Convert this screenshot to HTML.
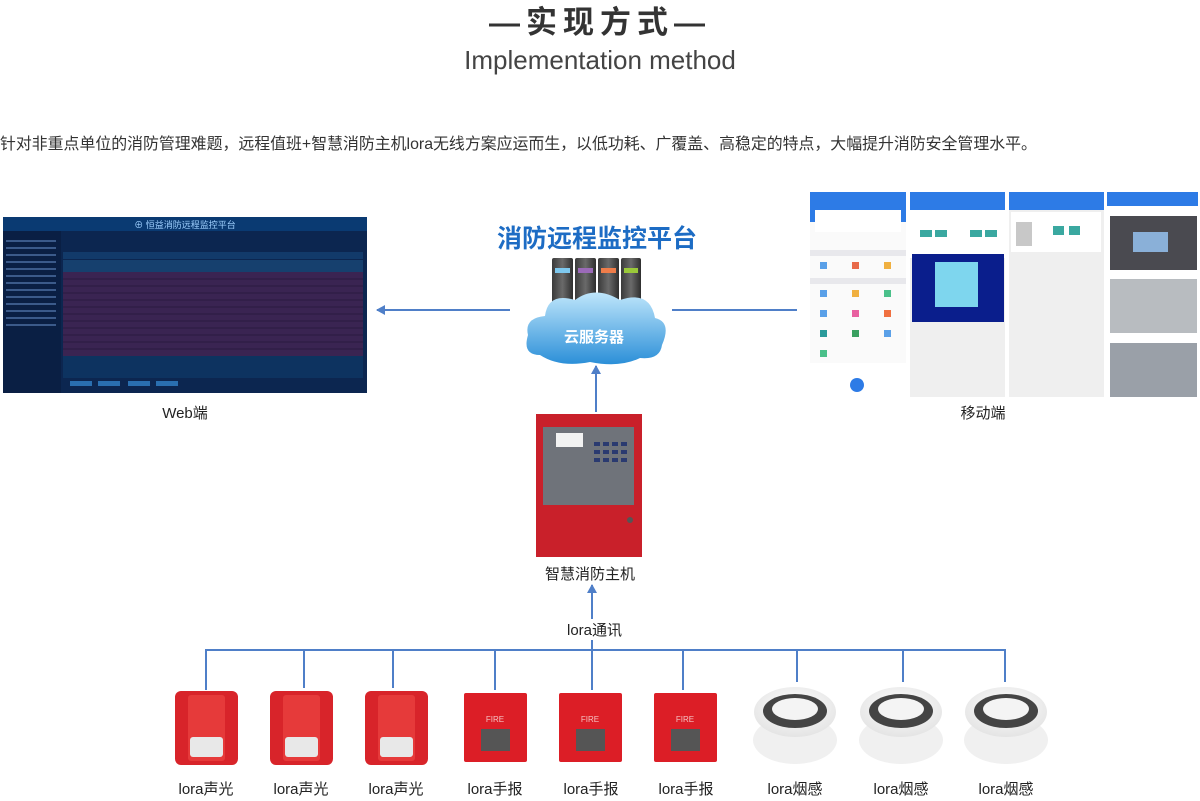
<!DOCTYPE html>
<html><head><meta charset="utf-8"><style>
*{margin:0;padding:0;box-sizing:border-box}
body{width:1200px;height:801px;background:#fff;position:relative;overflow:hidden;font-family:"Liberation Sans","Noto Sans CJK SC",sans-serif;color:#333}
.a{position:absolute}
.lbl{position:absolute;font-size:15px;color:#222;text-align:center;width:100px}
</style></head><body>
<div class="a" style="left:0;top:-3px;width:1200px;text-align:center;font-size:31px;font-weight:bold;color:#333;letter-spacing:6px">—实现方式—</div>
<div class="a" style="left:0;top:45px;width:1200px;text-align:center;font-size:26px;color:#444">Implementation method</div>
<div class="a" style="left:0;top:131px;font-size:15.9px;color:#333;white-space:nowrap">针对非重点单位的消防管理难题，远程值班+智慧消防主机lora无线方案应运而生，以低功耗、广覆盖、高稳定的特点，大幅提升消防安全管理水平。</div>

<svg class="a" style="left:0;top:0" width="1200" height="801">
<defs>
<marker id="ar" markerWidth="10" markerHeight="10" refX="8" refY="5" orient="auto" markerUnits="userSpaceOnUse"><path d="M0,0 L9,5 L0,10 Z" fill="#4f7fc8"/></marker>
<linearGradient id="cl" x1="0" y1="0" x2="0" y2="1"><stop offset="0" stop-color="#bfe6fb"/><stop offset="1" stop-color="#2b8fd8"/></linearGradient>
<linearGradient id="sv" x1="0" y1="0" x2="1" y2="0"><stop offset="0" stop-color="#3a3a3a"/><stop offset=".5" stop-color="#6a6a6a"/><stop offset="1" stop-color="#2e2e2e"/></linearGradient>
<radialGradient id="sm" cx=".5" cy=".4" r=".6"><stop offset="0" stop-color="#fff"/><stop offset="1" stop-color="#e4e4e4"/></radialGradient>
</defs>
<rect x="3" y="217" width="364" height="176" fill="#0c2650"/>
<rect x="3" y="217" width="364" height="14" fill="#0a3a72"/>
<text x="185" y="228" font-size="9" fill="#9fd0ff" text-anchor="middle">⊕ 恒益消防远程监控平台</text>
<rect x="3" y="231" width="58" height="162" fill="#0a1f44"/>
<g fill="#3b5a8a">
<rect x="6" y="240" width="50" height="2"/><rect x="6" y="247" width="50" height="2"/><rect x="6" y="254" width="50" height="2"/><rect x="6" y="261" width="50" height="2"/><rect x="6" y="268" width="50" height="2"/><rect x="6" y="275" width="50" height="2"/><rect x="6" y="282" width="50" height="2"/><rect x="6" y="289" width="50" height="2"/><rect x="6" y="296" width="50" height="2"/><rect x="6" y="303" width="50" height="2"/><rect x="6" y="310" width="50" height="2"/><rect x="6" y="317" width="50" height="2"/><rect x="6" y="324" width="50" height="2"/>
</g>
<rect x="63" y="252" width="300" height="7" fill="#123a6a"/>
<rect x="63" y="260" width="300" height="12" fill="#16406e"/>
<rect x="63" y="272" width="300" height="84" fill="#3a2452"/>
<g stroke="#2a1a40" stroke-width="1">
<line x1="63" y1="279" x2="363" y2="279"/><line x1="63" y1="286" x2="363" y2="286"/><line x1="63" y1="293" x2="363" y2="293"/><line x1="63" y1="300" x2="363" y2="300"/><line x1="63" y1="307" x2="363" y2="307"/><line x1="63" y1="314" x2="363" y2="314"/><line x1="63" y1="321" x2="363" y2="321"/><line x1="63" y1="328" x2="363" y2="328"/><line x1="63" y1="335" x2="363" y2="335"/><line x1="63" y1="342" x2="363" y2="342"/><line x1="63" y1="349" x2="363" y2="349"/>
</g>
<rect x="63" y="356" width="300" height="22" fill="#0d3360"/>
<rect x="70" y="381" width="22" height="5" fill="#2a6fb0"/><rect x="98" y="381" width="22" height="5" fill="#2a6fb0"/><rect x="128" y="381" width="22" height="5" fill="#2a6fb0"/><rect x="156" y="381" width="22" height="5" fill="#2a6fb0"/>
<line x1="510" y1="310" x2="377" y2="310" stroke="#4f7fc8" stroke-width="2" marker-end="url(#ar)"/>
<line x1="672" y1="310" x2="797" y2="310" stroke="#4f7fc8" stroke-width="2"/>
<g>
<rect x="552" y="258" width="21" height="62" rx="2" fill="url(#sv)"/><rect x="575" y="258" width="21" height="62" rx="2" fill="url(#sv)"/><rect x="598" y="258" width="21" height="62" rx="2" fill="url(#sv)"/><rect x="621" y="258" width="20" height="62" rx="2" fill="url(#sv)"/>
<rect x="555" y="268" width="15" height="5" fill="#7ec8ee"/><rect x="578" y="268" width="15" height="5" fill="#9b6ab8"/><rect x="601" y="268" width="15" height="5" fill="#ef7d4a"/><rect x="624" y="268" width="14" height="5" fill="#9ac93a"/>
</g>
<path d="M540,355 Q522,355 528,335 Q524,318 545,316 Q548,292 575,300 Q595,285 620,300 Q650,290 655,318 Q672,322 662,345 Q660,360 640,358 Q620,368 590,362 Q560,368 540,355 Z" fill="url(#cl)"/>
<text x="594" y="342" font-size="15" font-weight="bold" fill="#fff" text-anchor="middle">云服务器</text>
<rect x="810" y="192" width="96" height="205" fill="#fafafa"/>
<rect x="810" y="192" width="96" height="30" fill="#2d7be6"/>
<rect x="815" y="210" width="86" height="22" fill="#fff"/>
<rect x="810" y="250" width="96" height="6" fill="#e8e8ec"/>
<rect x="810" y="278" width="96" height="6" fill="#e8e8ec"/>
<rect x="810" y="363" width="96" height="34" fill="#fff"/>
<circle cx="857" cy="385" r="7" fill="#2d7be6"/>
<g fill="#5aa0e8"><rect x="820" y="262" width="7" height="7"/><rect x="852" y="262" width="7" height="7" fill="#e86a4a"/><rect x="884" y="262" width="7" height="7" fill="#f0b040"/><rect x="820" y="290" width="7" height="7"/><rect x="852" y="290" width="7" height="7" fill="#f0b040"/><rect x="884" y="290" width="7" height="7" fill="#4ac08a"/><rect x="820" y="310" width="7" height="7"/><rect x="852" y="310" width="7" height="7" fill="#e860a0"/><rect x="884" y="310" width="7" height="7" fill="#f07040"/><rect x="820" y="330" width="7" height="7" fill="#2a9a9a"/><rect x="852" y="330" width="7" height="7" fill="#3aa060"/><rect x="884" y="330" width="7" height="7"/><rect x="820" y="350" width="7" height="7" fill="#4ac08a"/></g>
<rect x="910" y="192" width="95" height="205" fill="#efefef"/>
<rect x="910" y="192" width="95" height="18" fill="#2d7be6"/>
<rect x="910" y="210" width="95" height="48" fill="#fff"/>
<rect x="920" y="230" width="12" height="7" fill="#3aa8a0"/><rect x="935" y="230" width="12" height="7" fill="#3aa8a0"/><rect x="970" y="230" width="12" height="7" fill="#3aa8a0"/><rect x="985" y="230" width="12" height="7" fill="#3aa8a0"/>
<rect x="912" y="254" width="92" height="68" fill="#0a1e8c"/>
<rect x="935" y="262" width="43" height="45" fill="#7ed6ee"/>
<rect x="1009" y="192" width="95" height="205" fill="#efefef"/>
<rect x="1009" y="192" width="95" height="18" fill="#2d7be6"/>
<rect x="1011" y="212" width="90" height="40" fill="#fff"/>
<rect x="1016" y="222" width="16" height="24" fill="#c8c8c8"/>
<rect x="1053" y="226" width="11" height="9" fill="#3aa8a0"/><rect x="1069" y="226" width="11" height="9" fill="#3aa8a0"/>
<rect x="1107" y="192" width="91" height="205" fill="#fff"/>
<rect x="1107" y="192" width="91" height="14" fill="#2d7be6"/>
<rect x="1110" y="216" width="87" height="54" fill="#4a4a50"/>
<rect x="1133" y="232" width="35" height="20" fill="#8ab0d8"/>
<rect x="1110" y="279" width="87" height="54" fill="#b8bcc0"/>
<rect x="1110" y="343" width="87" height="54" fill="#9aa0a8"/>
<line x1="596" y1="412" x2="596" y2="366" stroke="#4f7fc8" stroke-width="2" marker-end="url(#ar)"/>
<rect x="536" y="414" width="106" height="143" fill="#c9202a"/>
<rect x="543" y="427" width="91" height="78" fill="#6f737a"/>
<rect x="556" y="433" width="27" height="14" fill="#f2f2f2"/>
<g fill="#2a3a70"><rect x="594" y="442" width="6" height="4"/><rect x="603" y="442" width="6" height="4"/><rect x="612" y="442" width="6" height="4"/><rect x="621" y="442" width="6" height="4"/><rect x="594" y="450" width="6" height="4"/><rect x="603" y="450" width="6" height="4"/><rect x="612" y="450" width="6" height="4"/><rect x="621" y="450" width="6" height="4"/><rect x="594" y="458" width="6" height="4"/><rect x="603" y="458" width="6" height="4"/><rect x="612" y="458" width="6" height="4"/><rect x="621" y="458" width="6" height="4"/></g>
<circle cx="630" cy="520" r="3" fill="#555"/>
<line x1="592" y1="660" x2="592" y2="585" stroke="#4f7fc8" stroke-width="2" marker-end="url(#ar)"/>
<g stroke="#4f7fc8" stroke-width="2" fill="none">
<line x1="205" y1="650" x2="1006" y2="650"/>
<line x1="206" y1="650" x2="206" y2="690"/><line x1="304" y1="650" x2="304" y2="688"/><line x1="393" y1="650" x2="393" y2="688"/><line x1="495" y1="650" x2="495" y2="690"/><line x1="592" y1="650" x2="592" y2="690"/><line x1="683" y1="650" x2="683" y2="690"/><line x1="797" y1="650" x2="797" y2="682"/><line x1="903" y1="650" x2="903" y2="682"/><line x1="1005" y1="650" x2="1005" y2="682"/>
</g>
<g id="snd">
<rect x="175" y="691" width="63" height="74" rx="6" fill="#d8242a"/>
<rect x="188" y="695" width="37" height="66" rx="3" fill="#e63a3a"/>
<rect x="190" y="737" width="33" height="20" rx="3" fill="#e8e8e8"/>
</g>
<use href="#snd" x="95"/><use href="#snd" x="190"/>
<g id="mcp">
<rect x="464" y="693" width="63" height="69" rx="2" fill="#dc1e26"/>
<text x="495" y="722" font-size="8" fill="#f5c0c0" text-anchor="middle">FIRE</text>
<rect x="481" y="729" width="29" height="22" fill="#555"/>
</g>
<use href="#mcp" x="95"/><use href="#mcp" x="190"/>
<g id="smk">
<ellipse cx="795" cy="740" rx="42" ry="24" fill="#f0f0f0"/>
<ellipse cx="795" cy="712" rx="41" ry="25" fill="url(#sm)"/>
<ellipse cx="795" cy="711" rx="32" ry="17" fill="#444"/>
<ellipse cx="795" cy="709" rx="23" ry="11" fill="#f4f4f4"/>
</g>
<use href="#smk" x="106"/><use href="#smk" x="211"/>
</svg>

<div class="a" style="left:497px;top:219px;font-size:25px;font-weight:bold;color:#1d6cc4;white-space:nowrap">消防远程监控平台</div>
<div class="lbl" style="left:135px;top:402px">Web端</div>
<div class="lbl" style="left:933px;top:402px">移动端</div>
<div class="lbl" style="left:530px;top:563px;width:120px">智慧消防主机</div>
<div class="a" style="left:567px;top:619px;font-size:15px;color:#222;background:#fff">lora通讯</div>
<div class="lbl" style="left:156px;top:778px">lora声光</div>
<div class="lbl" style="left:251px;top:778px">lora声光</div>
<div class="lbl" style="left:346px;top:778px">lora声光</div>
<div class="lbl" style="left:445px;top:778px">lora手报</div>
<div class="lbl" style="left:541px;top:778px">lora手报</div>
<div class="lbl" style="left:636px;top:778px">lora手报</div>
<div class="lbl" style="left:745px;top:778px">lora烟感</div>
<div class="lbl" style="left:851px;top:778px">lora烟感</div>
<div class="lbl" style="left:956px;top:778px">lora烟感</div>
</body></html>
